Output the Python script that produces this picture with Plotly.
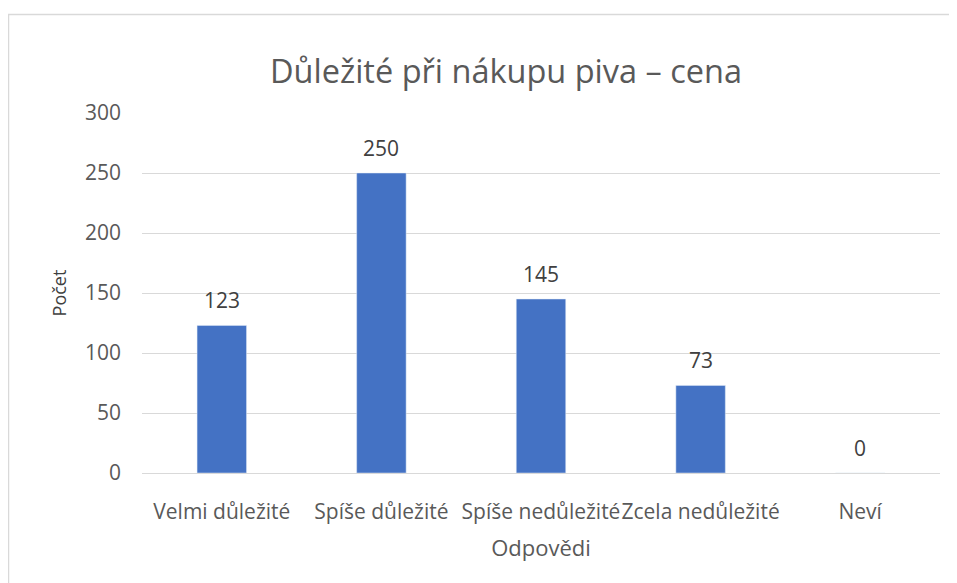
import plotly.graph_objects as go

categories = ["Velmi důležité", "Spíše důležité", "Spíše nedůležité", "Zcela nedůležité", "Neví"]
values = [123, 250, 145, 73, 0]
y_ticks = [0, 50, 100, 150, 200, 250, 300]

FONT = "Open Sans, Noto Sans, sans-serif"
GRAY = "#595959"
DARK = "#404040"

# page body has an 8px margin; compensate so the figure sits at the window origin
OFF = 8
W, H = 957 - OFF, 583 - OFF
L, T = 142 - OFF, 113 - OFF
R = W - (940 - OFF)
B = H - (473 - OFF)
pw, ph = W - L - R, H - T - B

def px_x(x):
    return (x - OFF - L) / pw

def px_y(y):
    return (H - B - (y - OFF)) / ph

fig = go.Figure(go.Bar(
    x=categories, y=values,
    marker_color="#4472C4",
    hoverinfo="x+y",
))

for c, v in zip(categories, values):
    fig.add_annotation(x=c, y=v, text=str(v), showarrow=False, yanchor="bottom",
                       yshift=9, font=dict(size=21, color=DARK, family=FONT))

fig.update_layout(
    width=W, height=H,
    margin=dict(l=L, r=R, t=T, b=B),
    paper_bgcolor="white", plot_bgcolor="white",
    bargap=0.69,
    showlegend=False,
    title=dict(text="Důležité při nákupu piva – cena", x=(506 - OFF) / W, xanchor="center",
               y=1 - (72 - OFF) / H, yanchor="middle", xref="container", yref="container",
               font=dict(size=32.5, color=GRAY, family=FONT)),
    xaxis=dict(title=dict(text="Odpovědi", font=dict(size=22, color=GRAY, family=FONT), standoff=16),
               tickfont=dict(size=21, color=GRAY, family=FONT), tickangle=0,
               showline=True, linecolor="#d9d9d9", linewidth=1, ticks="",
               showgrid=False, ticklabelstandoff=20),
    yaxis=dict(title=dict(text="Počet", font=dict(size=18, color=DARK, family=FONT), standoff=13),
               tickfont=dict(size=21, color=GRAY, family=FONT),
               range=[0, 300], tickvals=y_ticks, showgrid=True, gridcolor="#d9d9d9",
               gridwidth=1, zeroline=False, ticks="", ticklabelstandoff=20),
    shapes=[dict(type="rect", xref="paper", yref="paper",
                 x0=px_x(8.5), x1=px_x(965), y0=px_y(600), y1=px_y(14.5),
                 line=dict(color="#d9d9d9", width=1.5), fillcolor="rgba(0,0,0,0)", layer="below")],
)

fig.write_html("out.html")
